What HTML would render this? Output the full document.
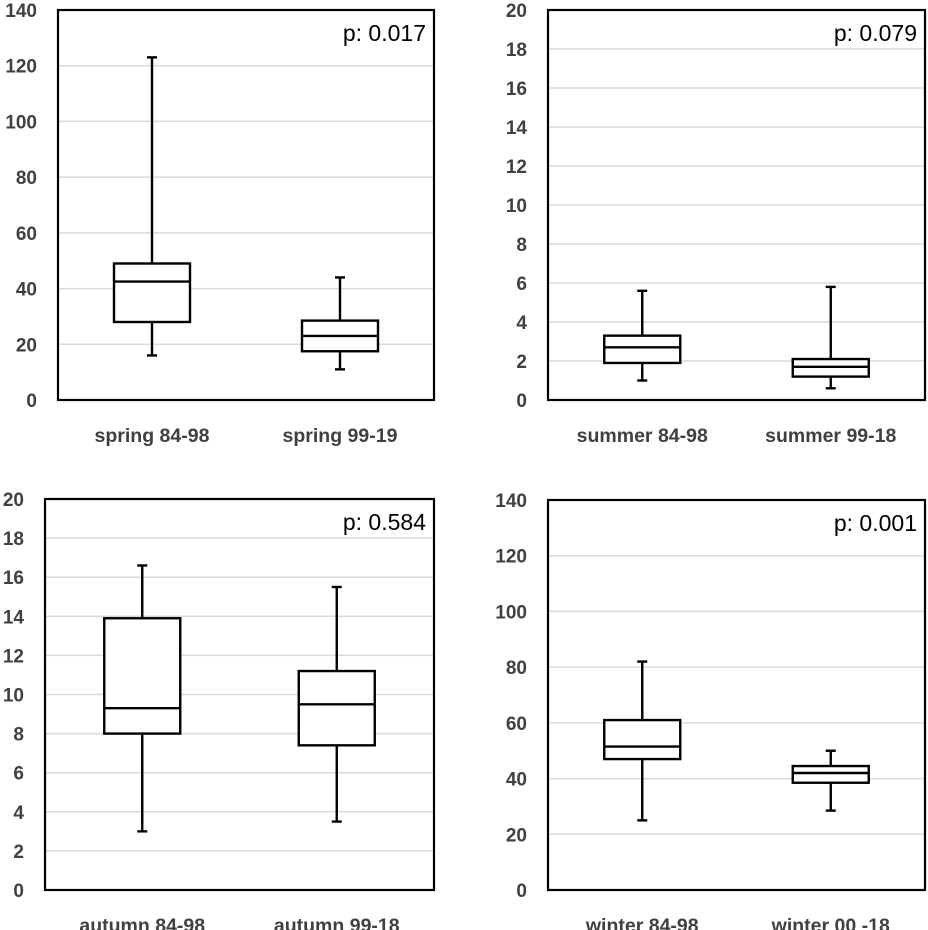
<!DOCTYPE html>
<html><head><meta charset="utf-8"><style>
body{margin:0;background:#fff;width:928px;height:930px;overflow:hidden}
svg{display:block}
text{font-family:"Liberation Sans",Arial,sans-serif}
</style></head><body>
<svg id="c" width="928" height="930"></svg>
<script>
const panelNames=["spring","summer","autumn","winter"];
const categories=[["spring 84-98","spring 99-19"],["summer 84-98","summer 99-18"],["autumn 84-98","autumn 99-18"],["winter 84-98","winter 00 -18"]];
const pValues=["p: 0.017","p: 0.079","p: 0.584","p: 0.001"];
const yMax=[140,20,20,140];
const yStep=[20,2,2,20];
// [min,q1,median,q3,max]
const springStats=[[16,28,42.5,49,123],[11,17.5,23,28.5,44]];
const summerStats=[[1.0,1.9,2.7,3.3,5.6],[0.6,1.2,1.7,2.1,5.8]];
const autumnStats=[[3.0,8.0,9.3,13.9,16.6],[3.5,7.4,9.5,11.2,15.5]];
const winterStats=[[25,47,51.5,61,82],[28.5,38.5,42,44.5,50]];
const allStats=[springStats,summerStats,autumnStats,winterStats];

const layout=[{l:58,r:434,t:10,b:400},{l:548,r:925,t:10,b:400},{l:45,r:434,t:499,b:890},{l:548,r:925,t:500,b:890}];
const svg=document.getElementById('c');
const NS='http://www.w3.org/2000/svg';
function mk(tag,attrs,parent){const e=document.createElementNS(NS,tag);for(const k in attrs)e.setAttribute(k,attrs[k]);(parent||svg).appendChild(e);return e;}

panelNames.forEach((pn,i)=>{
  const L=layout[i];
  const g=mk('g',{});
  
  
  const y=v=>L.b-(v/yMax[i])*(L.b-L.t);
  const bandW=(L.r-L.l)/categories[i].length;
  const x=k=>L.l+bandW*(k+0.5);
  for(let v=0;v<=yMax[i]+1e-9;v+=yStep[i]){
    if(v>0&&v<yMax[i]){
      const gl=mk('line',{x1:L.l,x2:L.r,y1:y(v),y2:y(v),stroke:'#d9d9d9','stroke-width':1.5},g);
      
      
    }
    const t=mk('text',{x:L.l-21,y:y(v)+7,'text-anchor':'end','font-size':19,'font-weight':'bold',fill:'#404040'},g);
    t.textContent=String(Math.round(v));
    
    
  }
  const frame=mk('rect',{x:L.l,y:L.t,width:L.r-L.l,height:L.b-L.t,fill:'none',stroke:'#000','stroke-width':2.2},g);
  
  
  const p=mk('text',{x:L.r-8,y:L.t+31,'text-anchor':'end','font-size':23,fill:'#000'},g);
  p.textContent=pValues[i];
  
  
  allStats[i].forEach((s,k)=>{
    const cx=x(k),hw=38,cw=5;
    const bg=mk('g',{stroke:'#000','stroke-width':2.4,fill:'none'},g);
    
    
    mk('line',{x1:cx,x2:cx,y1:y(s[0]),y2:y(s[1])},bg);
    mk('line',{x1:cx,x2:cx,y1:y(s[3]),y2:y(s[4])},bg);
    mk('line',{x1:cx-cw,x2:cx+cw,y1:y(s[0]),y2:y(s[0])},bg);
    mk('line',{x1:cx-cw,x2:cx+cw,y1:y(s[4]),y2:y(s[4])},bg);
    mk('rect',{x:cx-hw,y:y(s[3]),width:hw*2,height:y(s[1])-y(s[3]),fill:'#fff'},bg);
    mk('line',{x1:cx-hw,x2:cx+hw,y1:y(s[2]),y2:y(s[2])},bg);
    const ct=mk('text',{x:cx,y:L.b+42,'text-anchor':'middle','font-size':19.5,'font-weight':'bold',fill:'#404040'},g);
    ct.textContent=categories[i][k];
    
    
  });
});
</script>
</body></html>
